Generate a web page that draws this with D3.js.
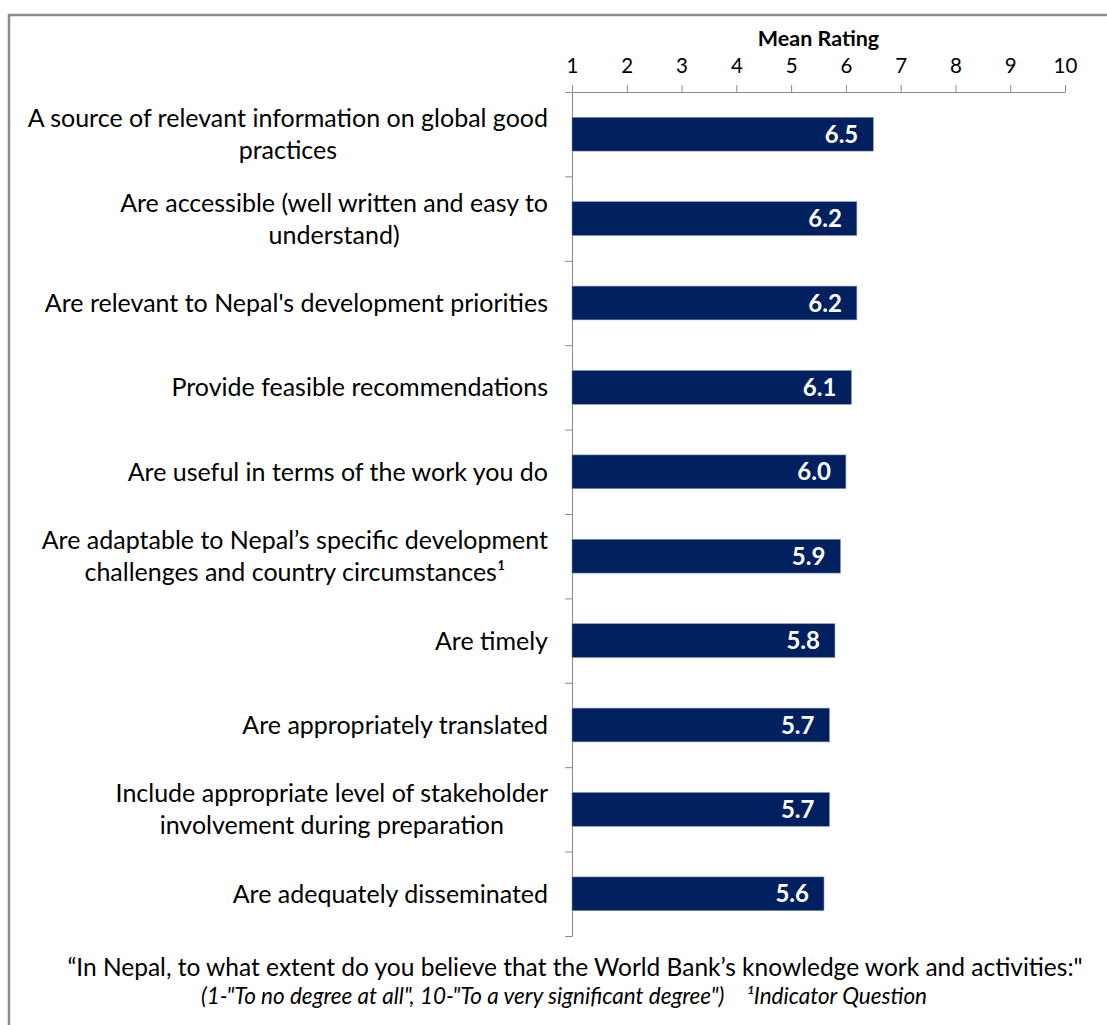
<!DOCTYPE html>
<html>
<head>
<meta charset="utf-8">
<script src="https://cdn.jsdelivr.net/npm/d3@7"></script>
<style>
  html, body { margin: 0; padding: 0; background: #fff; }
  svg { display: block; font-family: Lato, "Open Sans", sans-serif; }
</style>
</head>
<body>
<svg id="chart" width="1107" height="1025"></svg>
<script>
const categories = [
  "A source of relevant information on global good\npractices",
  "Are accessible (well written and easy to\nunderstand)",
  "Are relevant to Nepal's development priorities",
  "Provide feasible recommendations",
  "Are useful in terms of the work you do",
  "Are adaptable to Nepal\u2019s specific development\nchallenges and country circumstances\u00B9",
  "Are timely",
  "Are appropriately translated",
  "Include appropriate level of stakeholder\ninvolvement during preparation",
  "Are adequately disseminated"
];
const values = [6.5, 6.2, 6.2, 6.1, 6.0, 5.9, 5.8, 5.7, 5.7, 5.6];
const xTicks = [1, 2, 3, 4, 5, 6, 7, 8, 9, 10];
const axisTitle = "Mean Rating";
const footnote1 = "\u201CIn Nepal, to what extent do you believe that the World Bank\u2019s knowledge work and activities:\"";
const footnote2 = "(1-\"To no degree at all\", 10-\"To a very significant degree\")";
const footnote3 = "\u00B9Indicator Question";

const svg = d3.select("#chart");
const axisColor = "#8a8a8a";
const barColor = "#002060";

// frame
svg.append("path")
  .attr("d", "M9,1025 V15 H1107")
  .attr("fill", "none").attr("stroke", "#8c8c8c").attr("stroke-width", 2.5);

const x = d3.scaleLinear().domain([1, 10]).range([572, 1065]);
const y = d3.scaleBand().domain(categories).range([92, 936]).paddingInner(0.6).paddingOuter(0.3);
const yEdges = d3.scaleLinear().domain([0, categories.length]).range([92, 936]);

// top axis
const xAxis = svg.append("g").attr("transform", "translate(0,92)")
  .call(d3.axisTop(x).tickValues(xTicks).tickSize(7).tickSizeOuter(0).tickPadding(12).tickFormat(d3.format("d")));
xAxis.select(".domain").attr("stroke", axisColor);
xAxis.selectAll(".tick line").attr("stroke", axisColor);
xAxis.selectAll(".tick text").attr("fill", "#000").attr("font-size", 20.5).attr("font-family", "Lato");

svg.append("text")
  .attr("x", (x(1) + x(10)) / 2).attr("y", 46)
  .attr("text-anchor", "middle").attr("font-weight", "bold").attr("font-size", 21.5)
  .text(axisTitle);

// left axis (band edges)
const yAxis = svg.append("g").attr("transform", "translate(572,0)")
  .call(d3.axisLeft(yEdges).tickValues(d3.range(0, categories.length + 1)).tickSize(7).tickSizeOuter(0).tickFormat(""));
yAxis.select(".domain").attr("stroke", axisColor);
yAxis.selectAll(".tick line").attr("stroke", axisColor);

// bars
svg.append("g").selectAll("rect").data(values).join("rect")
  .attr("x", x(1))
  .attr("y", (d, i) => y(categories[i]))
  .attr("width", d => x(d) - x(1))
  .attr("height", y.bandwidth())
  .attr("fill", barColor)
  .attr("stroke", "#7f8fb5").attr("stroke-width", 0.6);

// value labels
svg.append("g").selectAll("text").data(values).join("text")
  .attr("x", d => x(d) - 15)
  .attr("y", (d, i) => y(categories[i]) + y.bandwidth() / 2)
  .attr("dy", "0.36em")
  .attr("text-anchor", "end")
  .attr("fill", "#fff").attr("font-weight", "bold").attr("font-size", 24)
  .text(d => d3.format(".1f")(d));

// category labels
const lineH = 32;
const labelG = svg.append("g");
categories.forEach(c => {
  const lines = c.split("\n");
  const cy = y(c) + y.bandwidth() / 2;
  const t = labelG.append("text")
    .attr("font-size", 25).attr("fill", "#000")
    .attr("text-anchor", "middle");
  lines.forEach((ln, k) => {
    t.append("tspan").attr("x", 0)
      .attr("y", cy + (k - (lines.length - 1) / 2) * lineH)
      .attr("dy", "0.36em").text(ln);
  });
  const w = t.node().getBBox().width;
  t.attr("transform", `translate(${548 - w / 2},0)`);
});

// footnotes
svg.append("text").attr("x", 575).attr("y", 976)
  .attr("text-anchor", "middle").attr("font-size", 24.5).text(footnote1);
const f2 = svg.append("text").attr("x", 564).attr("y", 1004)
  .attr("text-anchor", "middle").attr("font-size", 22.5).attr("font-style", "italic");
f2.append("tspan").text(footnote2);
f2.append("tspan").attr("dx", 22).text(footnote3);
</script>
</body>
</html>
